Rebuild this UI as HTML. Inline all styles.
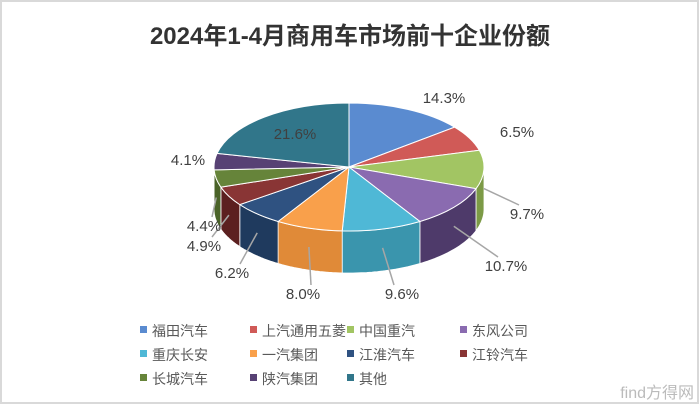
<!DOCTYPE html>
<html><head><meta charset="utf-8"><style>
html,body{margin:0;padding:0;background:#fff;}
#wrap{position:relative;width:700px;height:405px;overflow:hidden;font-family:"Liberation Sans","Noto Sans CJK SC",sans-serif;}
</style></head><body>
<div id="wrap">
<svg id="svg" width="700" height="405" viewBox="0 0 700 405">
<rect x="1" y="1" width="697" height="402" fill="#fff" stroke="#d9d9d9" stroke-width="2"/>
<text x="350" y="44" text-anchor="middle" font-size="24" font-weight="bold" fill="#333" font-family="Liberation Sans,Noto Sans CJK SC,sans-serif">2024年1-4月商用车市场前十企业份额</text>
<g id="sides"></g><g id="tops"></g><g id="labels"></g><g id="legend"></g>
<text x="694" y="398" text-anchor="end" font-size="16" fill="#bbb">find方得网</text>
</svg>
</div>
<script>
const categories=["福田汽车","上汽通用五菱","中国重汽","东风公司","重庆长安","一汽集团","江淮汽车","江铃汽车","长城汽车","陕汽集团","其他"];
const shares=[14.3,6.5,9.7,10.7,9.6,8.0,6.2,4.9,4.4,4.1,21.6];
const labelText=["14.3%","6.5%","9.7%","10.7%","9.6%","8.0%","6.2%","4.9%","4.4%","4.1%","21.6%"];
const colors=["#5a8bd0","#d05a57","#a2c563","#8a6bb0","#4fb8d6","#f9a04b","#2f5281","#893535","#66843a","#574174","#31768a"];
const sideColors=["#3f6aa5","#9e3e3c","#7c9a46","#4e3a6a","#3a95ad","#e08a38","#1f3a5e","#5c2020","#4a6328","#3c2b52","#22586a"];
const labelPos=[[444,103],[517,137],[527,219],[506,271],[402,299],[303,299],[232,278],[204,251],[204,231],[188,165],[295,139]];
const ns="http://www.w3.org/2000/svg";
const cx=349,cy=167,rx=135,ry=64,depth=42;
function mk(t,a,p){const e=document.createElementNS(ns,t);for(const k in a)e.setAttribute(k,a[k]);p.appendChild(e);return e;}
function pt(th,dy){return [cx+rx*Math.sin(th),cy-ry*Math.cos(th)+(dy||0)];}
const total=shares.reduce((a,b)=>a+b,0);
let a0=0;const sides=document.getElementById('sides'),tops=document.getElementById('tops'),labels=document.getElementById('labels'),legend=document.getElementById('legend');
shares.forEach((v,i)=>{
  const a1=a0+v/total*2*Math.PI;
  // side wall: visible between PI/2 and 3PI/2
  const s=Math.max(a0,Math.PI/2),e=Math.min(a1,3*Math.PI/2);
  if(e>s){
    let d="";const n=30;
    for(let k=0;k<=n;k++){const t=s+(e-s)*k/n;const p=pt(t);d+=(k?"L":"M")+p[0].toFixed(1)+","+p[1].toFixed(1);}
    for(let k=n;k>=0;k--){const t=s+(e-s)*k/n;const p=pt(t,depth);d+="L"+p[0].toFixed(1)+","+p[1].toFixed(1);}
    const w=mk('path',{d:d+"Z",fill:sideColors[i],stroke:"#fff","stroke-width":"0.8"},sides);
    
    
  }
  const p0=pt(a0),p1=pt(a1);const large=(a1-a0)>Math.PI?1:0;
  const top=mk('path',{d:`M${cx},${cy}L${p0[0]},${p0[1]}A${rx},${ry} 0 ${large} 1 ${p1[0]},${p1[1]}Z`,fill:colors[i],stroke:"#fff","stroke-width":"1"},tops);
  
  
  const lp=labelPos[i];
  const mid=(a0+a1)/2;
  if([2,3,4,5,6,7,8].includes(i)){
    const q=pt(mid,mid>Math.PI/2&&mid<3*Math.PI/2?depth*0.45:0);
    const ln=mk('line',{x1:q[0],y1:q[1],x2:lp[0]+(lp[0]>cx?-8:8),y2:lp[1]-14,stroke:"#a6a6a6","stroke-width":"1.5"},labels);
    
    
  }
  const t=mk('text',{x:lp[0],y:lp[1],"text-anchor":"middle","font-size":"15",fill:"#404040"},labels);
  t.textContent=labelText[i];
  
  
  const col=i%4,row=Math.floor(i/4);
  const lx=[140,250,347,460][col],ly=331+row*24;
  const g=mk('g',{},legend);
  
  
  mk('rect',{x:lx,y:ly-5,width:7,height:7,fill:colors[i]},g);
  const lt=mk('text',{x:lx+12,y:ly+5,"font-size":"14",fill:"#595959"},g);
  lt.textContent=categories[i];
  a0=a1;
});
</script>
</body></html>
